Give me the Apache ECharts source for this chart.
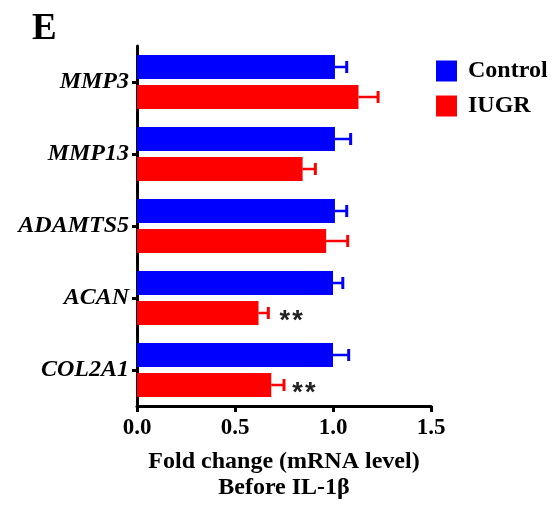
<!DOCTYPE html>
<html>
<head>
<meta charset="utf-8">
<script src="https://cdn.jsdelivr.net/npm/echarts@6/dist/echarts.min.js"></script>
<style>html,body{margin:0;padding:0;background:#fff;}#c{width:552px;height:510px;}</style>
</head>
<body>
<div id="c"></div>
<script>
var categories = ['MMP3', 'MMP13', 'ADAMTS5', 'ACAN', 'COL2A1'];
var controlValues = [1.01, 1.01, 1.01, 1.00, 1.00];
var controlErrors = [0.06, 0.08, 0.06, 0.05, 0.08];
var iugrValues = [1.13, 0.845, 0.965, 0.62, 0.685];
var iugrErrors = [0.10, 0.065, 0.11, 0.05, 0.065];
var iugrSignificance = ['', '', '', '*\u200A*', '*\u200A*'];
var xTicks = [0, 0.5, 1.0, 1.5];

var SERIF = "'Times New Roman', 'Liberation Serif', serif";
var SANS = "'Liberation Sans', Arial, sans-serif";
var BLUE = '#0000FF', RED = '#FF0000';

function errSeries(values, errors, color, shift) {
  return {
    type: 'custom',
    silent: true,
    z: 3,
    data: values.map(function (v, i) { return [v, i, errors[i]]; }),
    encode: { x: [0], y: 1 },
    renderItem: function (params, api) {
      var v = api.value(0), i = api.value(1), e = api.value(2);
      var p0 = api.coord([v, i]);
      var p1 = api.coord([v + e, i]);
      var y = p0[1] + shift;
      return {
        type: 'group',
        children: [
          { type: 'line', shape: { x1: p0[0], y1: y, x2: p1[0], y2: y }, style: { stroke: color, lineWidth: 2.5 } },
          { type: 'line', shape: { x1: p1[0], y1: y - 6, x2: p1[0], y2: y + 6 }, style: { stroke: color, lineWidth: 3 } }
        ]
      };
    }
  };
}

var chart = echarts.init(document.getElementById('c'), null, { renderer: 'canvas' });
chart.setOption({
  animation: false,
  backgroundColor: '#fff',
  title: {
    text: 'E', left: 27, top: 6,
    textStyle: { fontFamily: SERIF, fontWeight: 'bold', fontSize: 37, color: '#000' }
  },
  legend: {
    data: ['Control', 'IUGR'],
    orient: 'vertical',
    left: 431, top: 54,
    itemWidth: 21, itemHeight: 21, itemGap: 11,
    icon: 'rect',
    textStyle: { fontFamily: SERIF, fontWeight: 'bold', fontSize: 24, color: '#000', padding: [0, 0, 0, 6] }
  },
  grid: { left: 137, right: 121, top: 46, bottom: 104, containLabel: false },
  xAxis: {
    type: 'value', min: 0, max: 1.5, interval: 0.5,
    axisLine: { show: true, lineStyle: { color: '#000', width: 3 } },
    axisTick: { show: true, length: 6, lineStyle: { color: '#000', width: 3 } },
    splitLine: { show: false },
    axisLabel: {
      margin: 11, color: '#000', fontFamily: SERIF, fontWeight: 'bold', fontSize: 23,
      formatter: function (v) { return xTicks.indexOf(v) >= 0 ? v.toFixed(1) : ''; }
    },
    name: 'Fold change (mRNA level)\nBefore IL-1β',
    nameLocation: 'middle', nameGap: 43,
    nameTextStyle: { color: '#000', fontFamily: SERIF, fontWeight: 'bold', fontSize: 24, lineHeight: 26 }
  },
  yAxis: {
    type: 'category', data: categories, inverse: true,
    axisLine: { show: true, lineStyle: { color: '#000', width: 3 } },
    axisTick: { show: true, alignWithLabel: true, length: 5, lineStyle: { color: '#000', width: 3 } },
    axisLabel: { margin: 8, color: '#000', fontFamily: SERIF, fontWeight: 'bold', fontStyle: 'italic', fontSize: 24 }
  },
  series: [
    {
      name: 'Control', type: 'bar', data: controlValues,
      barWidth: 24, barGap: '25%',
      itemStyle: { color: BLUE }
    },
    {
      name: 'IUGR', type: 'bar',
      data: iugrValues.map(function (v, i) {
        return {
          value: v,
          label: {
            show: iugrSignificance[i] !== '', position: 'right', distance: 21,
            formatter: iugrSignificance[i],
            color: '#222', fontFamily: SANS, fontWeight: 'bold', fontSize: 27, offset: [0, 9]
          }
        };
      }),
      barWidth: 24, barGap: '25%',
      itemStyle: { color: RED }
    },
    errSeries(controlValues, controlErrors, BLUE, -15),
    errSeries(iugrValues, iugrErrors, RED, 15)
  ]
});
</script>
</body>
</html>
